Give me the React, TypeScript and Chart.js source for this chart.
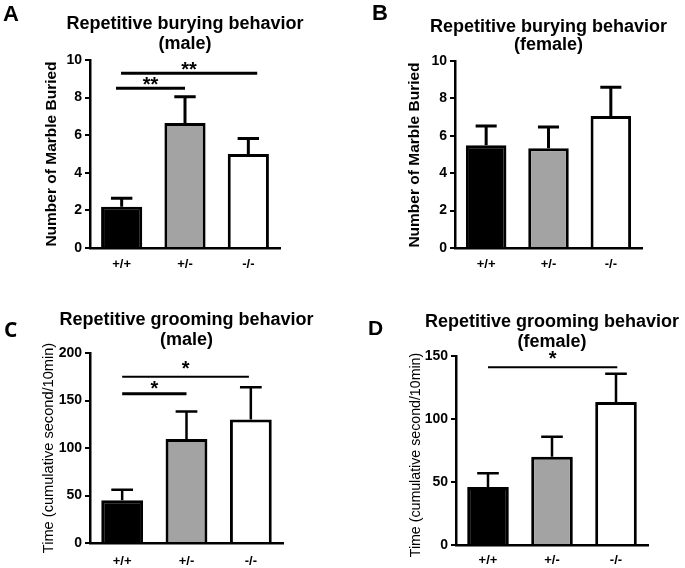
import React, { useEffect, useRef } from "react";
import { Chart, registerables } from "chart.js";

Chart.register(...registerables);

// ---------- data ----------
const categories = ["+/+", "+/-", "-/-"];
const barFills = ["#000000", "#a3a3a3", "#ffffff"];

const buryMaleMean = [2.2, 6.65, 5.0];
const buryMaleSem = [0.45, 1.4, 0.83];
const buryFemaleMean = [5.5, 5.33, 7.06];
const buryFemaleSem = [1.02, 1.14, 1.54];
const groomMaleMean = [45, 109.5, 130];
const groomMaleSem = [11, 29, 34];
const groomFemaleMean = [46, 70, 113.5];
const groomFemaleSem = [11, 16, 22.5];

const buryYTicks = { max: 10, step: 2 };
const groomMaleYTicks = { max: 200, step: 50 };
const groomFemaleYTicks = { max: 150, step: 50 };

// significance brackets: from / to in category units, value on y scale
const buryMaleSig = [
  { from: -0.09, to: 1.0, value: 8.5, label: "**" },
  { from: -0.01, to: 2.14, value: 9.3, label: "**" },
];
const buryFemaleSig: { from: number; to: number; value: number; label: string }[] = [];
const groomMaleSig = [
  { from: 0.0, to: 1.0, value: 157, label: "*" },
  { from: 0.0, to: 1.97, value: 175, label: "*" },
];
const groomFemaleSig = [{ from: 0.0, to: 2.02, value: 141, label: "*" }];

const ARIAL = "'Liberation Sans', Arial, sans-serif";
const YW = 40;
const XH = 23;

type Panel = {
  letter: string;
  letterFont: string;
  letterPos: [number, number];
  box: { x: number; y: number; w: number; h: number };
  area: { l: number; t: number; r: number; b: number };
  title: string[];
  titleBaselines: number[];
  yTitle: string;
  yTitleFont: string;
  yTitlePos: [number, number];
  means: number[];
  sems: number[];
  yMax: number;
  yStep: number;
  sigs: { from: number; to: number; value: number; label: string }[];
  sigWidths: number[];
  sigGaps: number[];
  errWidth: number;
  xPad: number;
};

const panels: Panel[] = [
  {
    letter: "A",
    letterFont: `bold 22px ${ARIAL}`,
    letterPos: [3, 21],
    box: { x: 0, y: 0, w: 340, h: 290 },
    area: { l: 90, t: 60, r: 280, b: 248 },
    title: ["Repetitive burying behavior", "(male)"],
    titleBaselines: [28.5, 49],
    yTitle: "Number of Marble Buried",
    yTitleFont: `bold 15.5px ${ARIAL}`,
    yTitlePos: [52, 154],
    means: buryMaleMean,
    sems: buryMaleSem,
    yMax: buryYTicks.max,
    yStep: buryYTicks.step,
    sigs: buryMaleSig,
    sigWidths: [3, 3],
    sigGaps: [6.5, 6.5],
    errWidth: 3,
    xPad: 1,
  },
  {
    letter: "B",
    letterFont: `bold 22px ${ARIAL}`,
    letterPos: [372, 20],
    box: { x: 340, y: 0, w: 345, h: 290 },
    area: { l: 455, t: 61, r: 642, b: 248 },
    title: ["Repetitive burying behavior", "(female)"],
    titleBaselines: [31.5, 50],
    yTitle: "Number of Marble Buried",
    yTitleFont: `bold 15.5px ${ARIAL}`,
    yTitlePos: [415, 155],
    means: buryFemaleMean,
    sems: buryFemaleSem,
    yMax: buryYTicks.max,
    yStep: buryYTicks.step,
    sigs: buryFemaleSig,
    sigWidths: [],
    sigGaps: [],
    errWidth: 3,
    xPad: 1,
  },
  {
    letter: "C",
    letterFont: `bold 21px 'Open Sans', sans-serif`,
    letterPos: [4, 337],
    box: { x: 0, y: 290, w: 340, h: 278 },
    area: { l: 90, t: 353, r: 283, b: 543 },
    title: ["Repetitive grooming behavior", "(male)"],
    titleBaselines: [325, 345],
    yTitle: "Time (cumulative second/10min)",
    yTitleFont: `14.6px ${ARIAL}`,
    yTitlePos: [49, 448],
    means: groomMaleMean,
    sems: groomMaleSem,
    yMax: groomMaleYTicks.max,
    yStep: groomMaleYTicks.step,
    sigs: groomMaleSig,
    sigWidths: [3, 2],
    sigGaps: [8, 11],
    errWidth: 2.5,
    xPad: 3,
  },
  {
    letter: "D",
    letterFont: `bold 21px ${ARIAL}`,
    letterPos: [368, 335],
    box: { x: 340, y: 290, w: 345, h: 278 },
    area: { l: 456, t: 356, r: 648, b: 545 },
    title: ["Repetitive grooming behavior", "(female)"],
    titleBaselines: [327, 347],
    yTitle: "Time (cumulative second/10min)",
    yTitleFont: `14.2px ${ARIAL}`,
    yTitlePos: [416, 455],
    means: groomFemaleMean,
    sems: groomFemaleSem,
    yMax: groomFemaleYTicks.max,
    yStep: groomFemaleYTicks.step,
    sigs: groomFemaleSig,
    sigWidths: [2],
    sigGaps: [11],
    errWidth: 2.5,
    xPad: 0,
  },
];

function makeOverlay(p: Panel) {
  const ox = p.box.x;
  const oy = p.box.y;
  return {
    id: "overlay" + p.letter,
    afterDatasetsDraw(chart: any) {
      const ctx = chart.ctx as CanvasRenderingContext2D;
      const ys = chart.scales.y;
      const xs = chart.scales.x;
      const meta = chart.getDatasetMeta(0);
      ctx.save();
      ctx.strokeStyle = "#000";
      ctx.lineCap = "butt";
      ctx.lineWidth = p.errWidth;
      meta.data.forEach((bar: any, i: number) => {
        const pr = bar.getProps(["x", "y", "width"], true);
        const top = ys.getPixelForValue(p.means[i] + p.sems[i]);
        const half = pr.width * 0.26;
        ctx.beginPath();
        ctx.moveTo(pr.x, pr.y);
        ctx.lineTo(pr.x, top);
        ctx.moveTo(pr.x - half, top);
        ctx.lineTo(pr.x + half, top);
        ctx.stroke();
      });
      // significance brackets
      p.sigs.forEach((s, i) => {
        const x1 = xs.getPixelForValue(s.from);
        const x2 = xs.getPixelForValue(s.to);
        const yy = ys.getPixelForValue(s.value);
        ctx.lineWidth = p.sigWidths[i];
        ctx.beginPath();
        ctx.moveTo(x1, yy);
        ctx.lineTo(x2, yy);
        ctx.stroke();
        ctx.fillStyle = "#000";
        ctx.font = `bold 20px ${ARIAL}`;
        ctx.textAlign = "center";
        ctx.textBaseline = "alphabetic";
        ctx.fillText(s.label, (x1 + x2) / 2, yy - p.sigGaps[i] + 9);
      });
      ctx.restore();
    },
    afterDraw(chart: any) {
      const ctx = chart.ctx as CanvasRenderingContext2D;
      const area = chart.chartArea;
      ctx.save();
      ctx.fillStyle = "#000";
      // panel letter
      ctx.font = p.letterFont;
      ctx.textAlign = "left";
      ctx.textBaseline = "alphabetic";
      ctx.fillText(p.letter, p.letterPos[0] - ox, p.letterPos[1] - oy);
      // title
      ctx.font = `bold 18px ${ARIAL}`;
      ctx.textAlign = "center";
      const cx = (area.left + area.right) / 2;
      p.title.forEach((t, i) => ctx.fillText(t, cx, p.titleBaselines[i] - oy));
      // y title
      ctx.font = p.yTitleFont;
      ctx.translate(p.yTitlePos[0] - ox, p.yTitlePos[1] - oy);
      ctx.rotate(-Math.PI / 2);
      ctx.textBaseline = "middle";
      ctx.fillText(p.yTitle, 0, 0);
      ctx.restore();
    },
  };
}

function PanelChart({ p }: { p: Panel }) {
  const ref = useRef<HTMLCanvasElement | null>(null);
  useEffect(() => {
    if (!ref.current) return;
    const pad = {
      left: p.area.l - p.box.x - YW,
      top: p.area.t - p.box.y,
      right: p.box.x + p.box.w - p.area.r,
      bottom: p.box.y + p.box.h - p.area.b - XH,
    };
    const chart = new Chart(ref.current, {
      type: "bar",
      data: {
        labels: categories,
        datasets: [
          {
            data: p.means,
            backgroundColor: barFills,
            borderColor: "#000",
            borderWidth: 3,
            barPercentage: 0.65,
            categoryPercentage: 1,
          },
        ],
      },
      options: {
        responsive: false,
        maintainAspectRatio: false,
        animation: false,
        devicePixelRatio: 1,
        layout: { padding: pad },
        plugins: {
          legend: { display: false },
          title: { display: false },
          tooltip: { enabled: false },
        },
        scales: {
          x: {
            afterFit: (s: any) => {
              s.height = XH;
            },
            grid: { display: false },
            border: { display: true, color: "#000", width: 2.5, z: 1 } as any,
            ticks: {
              color: "#000",
              padding: p.xPad,
              font: { family: ARIAL, size: 13, weight: "bold" },
            },
          },
          y: {
            min: 0,
            max: p.yMax,
            afterFit: (s: any) => {
              s.width = YW;
            },
            grid: {
              display: true,
              drawOnChartArea: false,
              drawTicks: true,
              tickLength: 5,
              color: "#000",
              lineWidth: 2,
            },
            border: { display: true, color: "#000", width: 2.5 },
            ticks: {
              stepSize: p.yStep,
              color: "#000",
              padding: 3,
              font: { family: ARIAL, size: 14, weight: "bold" },
            },
          },
        },
      },
      plugins: [makeOverlay(p)],
    } as any);
    return () => chart.destroy();
  }, [p]);
  return (
    <canvas
      ref={ref}
      width={p.box.w}
      height={p.box.h}
      style={{
        position: "absolute",
        left: p.box.x,
        top: p.box.y,
        width: p.box.w,
        height: p.box.h,
      }}
    />
  );
}

export default function App() {
  return (
    <div
      style={{
        position: "absolute",
        left: 0,
        top: 0,
        width: 685,
        height: 568,
        background: "#fff",
        overflow: "hidden",
      }}
    >
      {panels.map((p) => (
        <PanelChart key={p.letter} p={p} />
      ))}
    </div>
  );
}
